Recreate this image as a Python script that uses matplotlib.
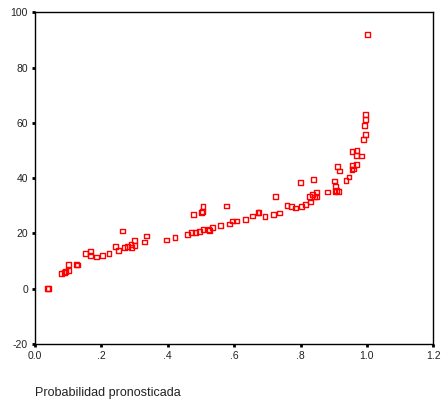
import matplotlib
matplotlib.use("Agg")
import matplotlib.pyplot as plt

plt.rcParams['font.family'] = ['Liberation Sans', 'DejaVu Sans']
plt.rcParams['axes.unicode_minus'] = False

# predicted probability vs. value
prob = [0.038, 0.040, 0.080, 0.088, 0.092, 0.101, 0.101, 0.126, 0.128,
        0.151, 0.168, 0.167, 0.186, 0.203, 0.223, 0.263, 0.243, 0.251,
        0.269, 0.279, 0.289, 0.291, 0.299, 0.301, 0.331, 0.337, 0.397,
        0.422, 0.459, 0.472, 0.483, 0.495, 0.506, 0.523, 0.525, 0.534,
        0.559, 0.586, 0.596, 0.608, 0.634, 0.477, 0.502, 0.504, 0.506,
        0.578, 0.656, 0.672, 0.675, 0.693, 0.718, 0.737, 0.725, 0.759,
        0.772, 0.784, 0.802, 0.815, 0.830, 0.827, 0.836, 0.841, 0.849,
        0.849, 0.799, 0.839, 0.881, 0.902, 0.905, 0.904, 0.909, 0.914,
        0.911, 0.917, 0.937, 0.946, 0.955, 0.960, 0.956, 0.968, 0.955,
        0.970, 0.968, 0.984, 0.989, 0.996, 0.992, 0.996, 0.996, 1.002]
value = [0.0, 0.2, 5.5, 5.9, 6.1, 6.7, 8.8, 8.8, 8.6,
         12.7, 13.4, 11.9, 11.5, 11.9, 12.6, 20.9, 15.2, 13.8,
         14.8, 15.4, 16.0, 15.0, 17.3, 15.5, 16.9, 19.1, 17.6,
         18.4, 19.7, 20.2, 20.2, 20.7, 21.4, 21.4, 21.2, 22.2,
         23.0, 23.4, 24.5, 24.5, 25.1, 26.8, 27.5, 27.8, 29.6,
         29.9, 26.3, 27.5, 27.7, 26.2, 26.9, 27.4, 33.4, 30.2,
         29.6, 29.2, 29.8, 30.6, 31.4, 33.4, 34.1, 33.2, 33.2,
         35.0, 38.3, 39.5, 35.0, 39.0, 36.9, 35.1, 35.6, 35.3,
         44.3, 42.6, 39.2, 40.4, 43.1, 43.3, 44.7, 45.0, 49.7,
         50.1, 48.3, 48.0, 54.1, 55.9, 58.9, 61.3, 63.0, 92.1]

xticks = [0.0, 0.2, 0.4, 0.6, 0.8, 1.0, 1.2]
xtick_labels = ['0.0', '.2', '.4', '.6', '.8', '1.0', '1.2']
yticks = [-20, 0, 20, 40, 60, 80, 100]

fig = plt.figure(figsize=(4.41, 4.04), dpi=100)
ax = fig.add_axes([0.0794, 0.1485, 0.9031, 0.8211])

ax.scatter(prob, value, marker='s', s=12, facecolors='none',
           edgecolors='#ff0000', linewidths=1.0)

ax.set_xlim(0, 1.2)
ax.set_ylim(-20, 100)
ax.set_xticks(xticks)
ax.set_xticklabels(xtick_labels)
ax.set_yticks(yticks)
ax.tick_params(direction='out', length=2, width=2, labelsize=7.5,
               pad=3, colors='black', labelcolor='#222222')
for s in ax.spines.values():
    s.set_linewidth(1.0)
    s.set_color('black')

fig.text(35 / 441, 1 - 393 / 404, 'Probabilidad pronosticada',
         fontsize=9, ha='left', va='center', color='#222222')

fig.savefig('out.png', dpi=100)
